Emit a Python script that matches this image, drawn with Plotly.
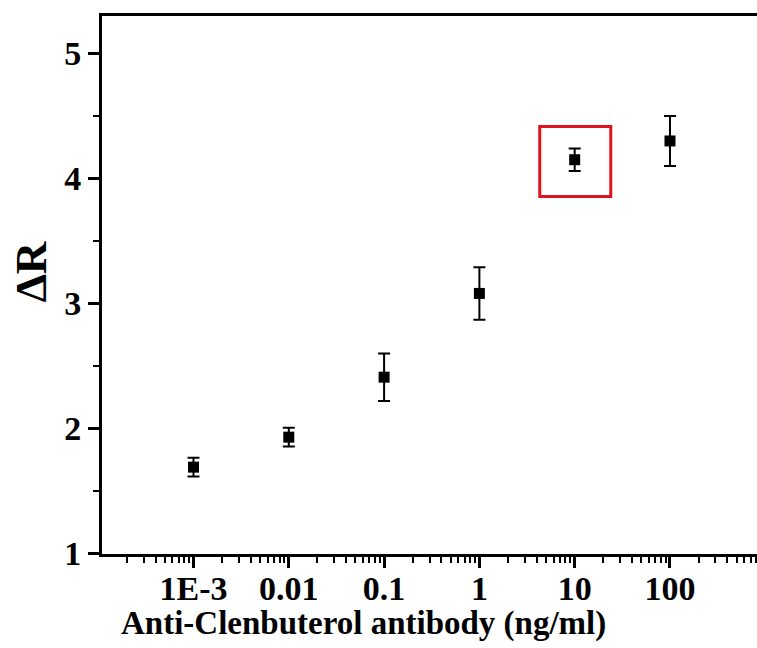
import plotly.graph_objects as go

concentrations = [0.001, 0.01, 0.1, 1, 10, 100]
delta_r = [1.69, 1.93, 2.41, 3.08, 4.15, 4.30]
delta_r_err = [0.075, 0.075, 0.19, 0.21, 0.09, 0.20]
x_tick_vals = [0.001, 0.01, 0.1, 1, 10, 100]
x_tick_text = ["1E-3", "0.01", "0.1", "1", "10", "100"]
y_tick_vals = [1, 2, 3, 4, 5]

font_family = "Liberation Serif"

minor_x = [m * 10.0 ** e for e in range(-4, 3) for m in range(2, 10)]

fig = go.Figure()
fig.add_trace(go.Scatter(
    x=concentrations, y=delta_r,
    mode="markers",
    marker=dict(symbol="square", size=11, color="black"),
    error_y=dict(type="data", array=delta_r_err, visible=True,
                 color="black", thickness=2, width=6),
    showlegend=False,
))

# red highlight box around the 10 ng/ml point
fig.add_shape(type="rect", xref="x", yref="y",
              x0=4.3, x1=23.9, y0=3.855, y1=4.416,
              line=dict(color="#e0141e", width=3), fillcolor="rgba(0,0,0,0)")

# axis titles placed as annotations for exact positioning
fig.add_annotation(text="ΔR", xref="paper", yref="paper",
                   x=-0.108, y=0.524, xanchor="center", yanchor="middle",
                   textangle=-90, showarrow=False,
                   font=dict(family=font_family, size=45, weight="bold", color="black"))
fig.add_annotation(text="Anti-Clenbuterol antibody (ng/ml)", xref="paper", yref="paper",
                   x=(363 - 102) / 655, y=-(623 - 554) / 538,
                   xanchor="center", yanchor="middle", showarrow=False,
                   font=dict(family=font_family, size=33, weight="bold", color="black"))

fig.update_layout(
    width=757, height=648,
    margin=dict(l=102, r=0, t=16, b=94),
    plot_bgcolor="white", paper_bgcolor="white",
    font=dict(family=font_family, color="black"),
)
fig.update_xaxes(
    type="log", range=[-3.96, 2.913],
    tickvals=x_tick_vals, ticktext=x_tick_text,
    ticks="outside", ticklen=11, tickwidth=2.5, tickcolor="black",
    minor=dict(tickvals=minor_x, ticks="outside", ticklen=6, tickwidth=2, tickcolor="black"),
    showline=True, linewidth=3, linecolor="black", mirror=True,
    showgrid=False, zeroline=False,
    ticklabelstandoff=-9,
    tickfont=dict(family=font_family, size=34, weight="bold"),
)
fig.update_yaxes(
    range=[0.995, 5.3],
    tickvals=y_tick_vals,
    ticks="outside", ticklen=11, tickwidth=2.5, tickcolor="black",
    minor=dict(dtick=0.5, ticks="outside", ticklen=6, tickwidth=2, tickcolor="black"),
    showline=True, linewidth=3, linecolor="black", mirror=False,
    showgrid=False, zeroline=False,
    tickfont=dict(family=font_family, size=34, weight="bold"),
)

fig.write_html("out.html", config={"displayModeBar": False},
               post_script="document.body.style.margin='0';document.body.style.overflow='hidden';")
